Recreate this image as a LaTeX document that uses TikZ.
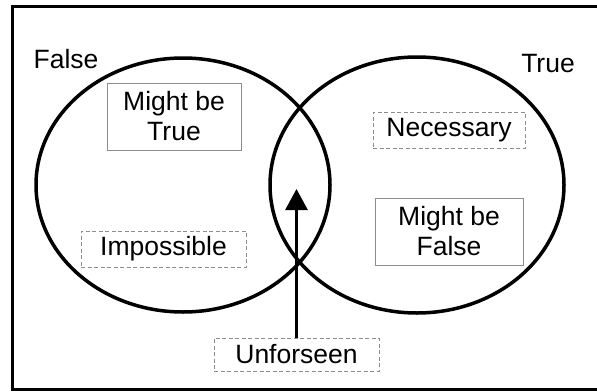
\documentclass[tikz,border=0pt]{standalone}
\usepackage{fontspec}
\setmainfont{Liberation Sans}
\usetikzlibrary{arrows.meta}
\begin{document}
\begin{tikzpicture}[x=1pt,y=-1pt,
  every node/.style={font=\fontsize{26.5}{30}\selectfont, align=center, inner sep=0pt},
  setline/.style={line width=3.5pt, black},
  solidbox/.style={draw=black!45, line width=0.9pt, minimum width=#1, minimum height=67pt},
  dashbox/.style={draw=black!45, line width=0.9pt, dashed, dash pattern=on 4pt off 2.5pt, minimum width=#1, minimum height=36pt},
  tag/.style={anchor=center}]
  \clip (0,0) rectangle (597,391);
  \fill[white] (0,0) rectangle (597,391);
  % outer frame, open to the right
  \draw[line width=3pt] (620,6) -- (12,6) -- (12,389) -- (620,389);
  % the two sets
  \draw[setline] (183,185) ellipse [x radius=147, y radius=127];
  \draw[setline] (417,185) ellipse [x radius=147, y radius=128];
  % set labels
  \node[tag] (false) at (66,59) {False};
  \node[tag] (true) at (548,64) {True};
  % boxed statements
  \node[solidbox=134pt] (mbt) at (174,116.5) {Might be\\True};
  \node[dashbox=152pt] (nec) at (449,130) {Necessary};
  \node[solidbox=148pt] (mbf) at (449,231.5) {Might be\\False};
  \node[dashbox=165pt] (imp) at (163.5,249) {Impossible};
  \node[dashbox=165pt, minimum height=33pt] (unf) at (296.5,354.5) {Unforseen};
  % arrow into the overlap
  \coordinate (tip) at (296.5,189);
  \draw[line width=3pt, -{Triangle[width=22pt,length=21pt]}] (unf.north) -- (tip);
\end{tikzpicture}
\end{document}
